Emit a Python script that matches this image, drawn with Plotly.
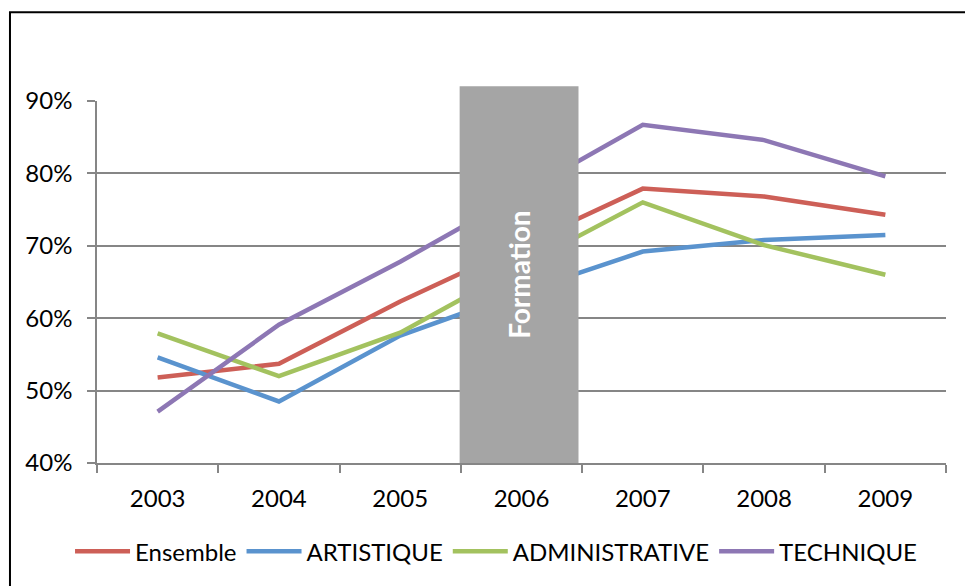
import plotly.graph_objects as go

years = ["2003", "2004", "2005", "2006", "2007", "2008", "2009"]
ensemble = [0.518, 0.537, 0.623, 0.701, 0.779, 0.768, 0.743]
artistique = [0.546, 0.485, 0.576, 0.636, 0.692, 0.708, 0.715]
administrative = [0.579, 0.520, 0.580, 0.672, 0.760, 0.701, 0.660]
technique = [0.471, 0.591, 0.678, 0.772, 0.867, 0.846, 0.796]

series = [
    ("Ensemble", ensemble, "#CD5F57"),
    ("ARTISTIQUE", artistique, "#5A93CE"),
    ("ADMINISTRATIVE", administrative, "#A3C25F"),
    ("TECHNIQUE", technique, "#8D77B4"),
]

FONT = "Lato"

fig = go.Figure()
for name, vals, col in series:
    fig.add_trace(go.Scatter(x=years, y=vals, name=name, mode="lines",
                             line=dict(color=col, width=4.5)))

fig.update_layout(
    width=965, height=586,
    margin=dict(l=97, r=19, t=101, b=123),
    paper_bgcolor="white", plot_bgcolor="white",
    font=dict(family=FONT, size=24, color="black"),
    showlegend=True,
    legend=dict(orientation="h", x=0.47, xanchor="center", y=-0.245, yanchor="middle",
                font=dict(family=FONT, size=24), itemwidth=55, tracegroupgap=0,
                bgcolor="rgba(0,0,0,0)"),
    xaxis=dict(type="category", range=[-0.5, 6.5], tickson="boundaries",
               showline=True, linecolor="#868686", linewidth=1.5,
               ticks="outside", ticklen=8, tickcolor="#868686", tickwidth=1.5,
               showgrid=False, zeroline=False, ticklabelstandoff=13),
    yaxis=dict(range=[0.4, 0.9], dtick=0.1, tickformat=".0%",
               showline=True, linecolor="#868686", linewidth=1.5,
               ticks="outside", ticklen=8, tickcolor="#868686", tickwidth=1.5,
               showgrid=True, gridcolor="#868686", gridwidth=1.5,
               zeroline=False, ticklabelstandoff=10),
    shapes=[
        dict(type="rect", xref="x", yref="paper", x0=2.49, x1=3.47, y0=0, y1=1.041,
             fillcolor="#A5A5A5", line=dict(width=0), layer="above"),
        dict(type="rect", xref="paper", yref="paper", x0=-0.1025, x1=1.2, y0=-0.5, y1=1.2455,
             fillcolor="rgba(0,0,0,0)", line=dict(color="black", width=2), layer="above"),
    ],
    annotations=[
        dict(text="<b>Formation</b>", xref="x", yref="paper", x=2.98, y=0.52,
             textangle=-90, showarrow=False, font=dict(family=FONT, size=28, color="white"),
             xanchor="center", yanchor="middle"),
    ],
)

fig.write_html("out.html")
